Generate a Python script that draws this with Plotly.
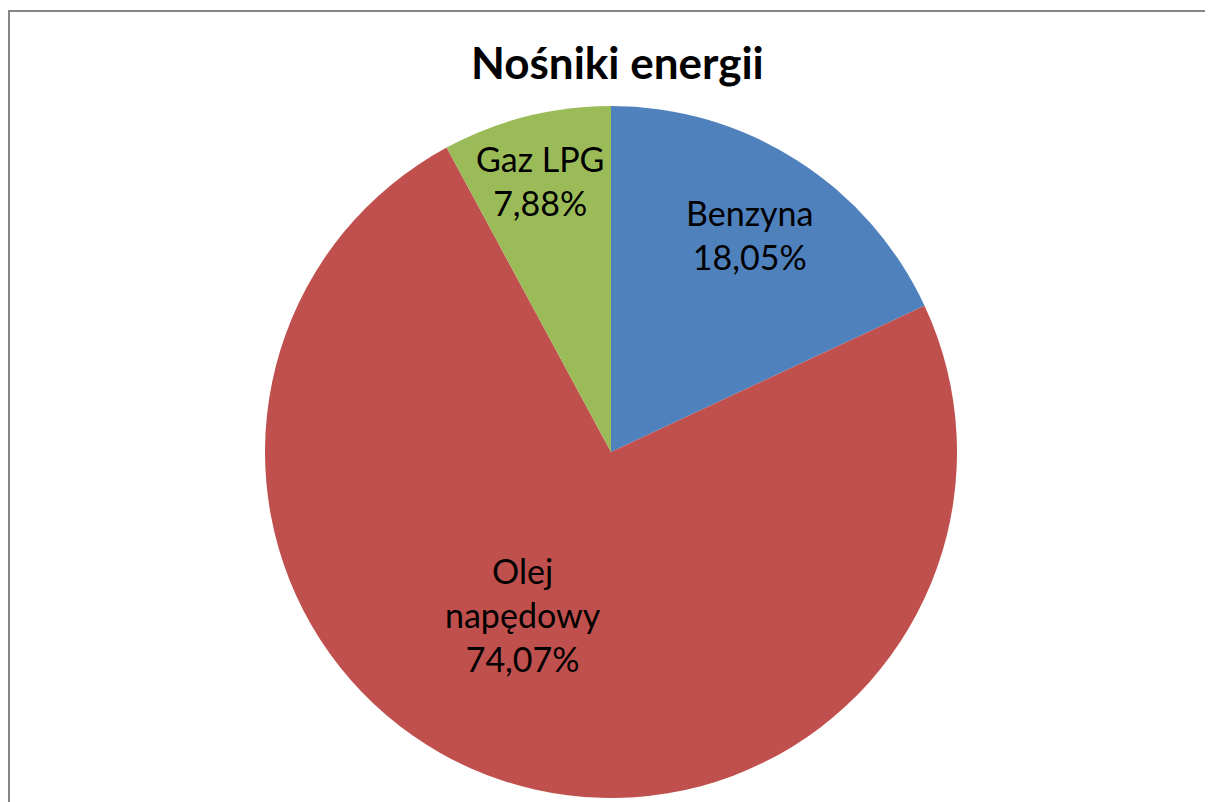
import math
import plotly.graph_objects as go

# Data
categories = ["Benzyna", "Olej napędowy", "Gaz LPG"]
label_text = ["Benzyna", "Olej<br>napędowy", "Gaz LPG"]
values = [18.05, 74.07, 7.88]
colors = ["#4F81BD", "#C0504D", "#9BBB59"]
title_text = "Nośniki energii"

W, H = 1213, 802
OFF = 8  # browser default body margin
cx, cy, R = 611 - OFF, 452 - OFF, 346  # pie centre / radius in px (layout)
label_r = [0.745, 0.535, 0.81]      # label radial position (fraction of R)
label_dang = [0.0, 10.1, -0.4]      # label angle offset from slice middle (deg)

fig = go.Figure(go.Pie(
    labels=categories,
    values=values,
    marker=dict(colors=colors, line=dict(width=0)),
    sort=False,
    direction="clockwise",
    rotation=0,
    textinfo="none",
    hoverinfo="label+percent",
    showlegend=False,
    domain=dict(x=[(cx - R) / W, (cx + R) / W], y=[1 - (cy + R) / H, 1 - (cy - R) / H]),
))

total = sum(values)
start = 0.0
annotations = []
for lab, v, rf, da in zip(label_text, values, label_r, label_dang):
    frac = v / total
    mid = (start + frac / 2) * 2 * math.pi + math.radians(da)
    start += frac
    px = cx + rf * R * math.sin(mid)
    py = cy - rf * R * math.cos(mid)
    pct = f"{v:.2f}".replace(".", ",") + "%"
    annotations.append(dict(
        x=px / W, y=1 - py / H, xref="paper", yref="paper",
        text=f"{lab}<br>{pct}", showarrow=False,
        font=dict(family="Lato", size=34, color="#000000"),
        xanchor="center", yanchor="middle", align="center",
    ))

annotations.append(dict(
    x=(617 - OFF) / W, y=1 - (62 - OFF) / H, xref="paper", yref="paper",
    text=f"<b>{title_text}</b>", showarrow=False,
    font=dict(family="Lato", size=44, color="#000000"),
    xanchor="center", yanchor="middle",
))

fig.update_layout(
    width=W, height=H,
    margin=dict(l=0, r=0, t=0, b=0),
    paper_bgcolor="white",
    plot_bgcolor="white",
    annotations=annotations,
    shapes=[dict(
        type="rect", xref="paper", yref="paper",
        x0=(9 - OFF) / W, x1=1.02, y0=-0.02, y1=1 - (11 - OFF) / H,
        line=dict(color="#868686", width=2), fillcolor="rgba(0,0,0,0)",
        layer="above",
    )],
)

fig.write_html("out.html")
